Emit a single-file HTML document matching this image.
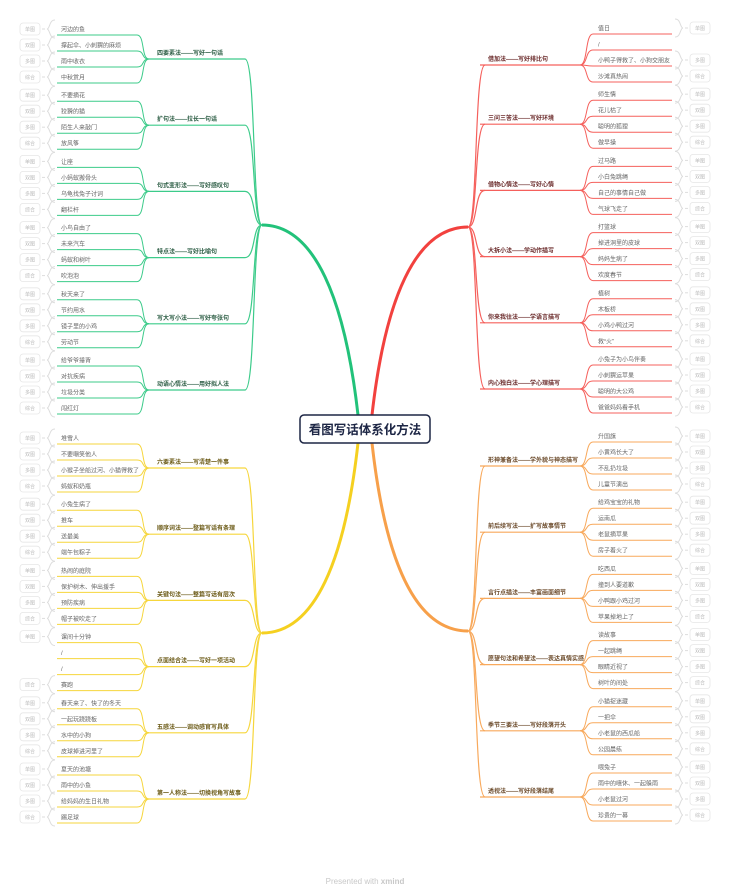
<!DOCTYPE html>
<html><head><meta charset="utf-8"><style>
html,body{margin:0;padding:0;background:#fff;width:730px;height:892px;overflow:hidden}
svg{display:block;font-family:"Liberation Sans","Noto Sans CJK SC",sans-serif}
</style></head><body>
<svg id="s" width="730" height="892" viewBox="0 0 730 892" xmlns="http://www.w3.org/2000/svg"></svg>
<script>
var S=document.getElementById('s'),h='';
var boxes=['单图','双图','多图','综合'];
var data=[
 {side:'L',c:'#3ccb8a',t:'#2d5e45',T:225,start:29,g:[
  ['四要素法——写好一句话',['河边的鱼','撑起伞、小刺猬的麻烦','雨中收衣','中秋赏月']],
  ['扩句法——拉长一句话',['不要摘花','狡猾的猫','陌生人来敲门','放风筝']],
  ['句式变形法——写好感叹句',['让座','小蚂蚁搬骨头','乌龟找兔子讨词','翻栏杆']],
  ['特点法——写好比喻句',['小鸟自由了','未来汽车','蚂蚁和树叶','吹泡泡']],
  ['写大写小法——写好夸张句',['秋天来了','节约用水','镜子里的小鸡','劳动节']],
  ['动语心情法——用好拟人法',['给爷爷捶背','对抗疾病','垃圾分类','闯红灯']]]},
 {side:'L',c:'#f6d63c',t:'#6b5a16',T:633,start:438,g:[
  ['六要素法——写清楚一件事',['堆雪人','不要嘲笑他人','小猴子坐船过河、小猫得救了','蚂蚁和奶瓶']],
  ['顺序词法——整篇写话有条理',['小兔生病了','推车','送最美','端午包粽子']],
  ['关键句法——整篇写话有层次',['热闹的庭院','保护树木、伸出援手','预防疾病','帽子被吹走了']],
  ['点面结合法——写好一项活动',['课间十分钟','/','/','赛跑']],
  ['五感法——调动感官写具体',['春天来了、快了的冬天','一起玩跷跷板','水中的小狗','皮球掉进河里了']],
  ['第一人称法——切换视角写故事',['夏天的池塘','雨中的小鱼','给妈妈的生日礼物','踢足球']]]},
 {side:'R',c:'#f5605c',t:'#6b2b2b',T:227,start:28,g:[
  ['借加法——写好排比句',['值日','/','小鸭子得救了、小狗交朋友','沙滩真热闹']],
  ['三问三答法——写好环境',['师生情','花儿枯了','聪明的狐狸','做早操']],
  ['借物心情法——写好心情',['过马路','小白兔跳绳','自己的事情自己做','气球飞走了']],
  ['大拆小法——学动作描写',['打篮球','掉进洞里的皮球','妈妈生病了','欢度春节']],
  ['你来我往法——学语言描写',['植树','木板桥','小鸡小鸭过河','救“火”']],
  ['内心独白法——学心理描写',['小兔子为小鸟伴奏','小刺猬运苹果','聪明的大公鸡','爸爸妈妈看手机']]]},
 {side:'R',c:'#f8a95c',t:'#6b4a2a',T:631,start:436,g:[
  ['形神兼备法——学外貌与神态描写',['升国旗','小黄鸡长大了','不乱扔垃圾','儿童节演出']],
  ['前后续写法——扩写故事情节',['给鸡宝宝的礼物','运南瓜','老鼠摘苹果','房子着火了']],
  ['言行点描法——丰富画面细节',['吃西瓜','撞到人要道歉','小鸭跟小鸡过河','苹果掉地上了']],
  ['愿望句法和希望法——表达真情实感',['读故事','一起跳绳','眼睛近视了','树叶的间处']],
  ['季节三要法——写好段落开头',['小猫捉迷藏','一把伞','小老鼠的西瓜船','公园晨练']],
  ['透视法——写好段落结尾',['喂兔子','雨中的嘻休、一起躲雨','小老鼠过河','珍贵的一幕']]]}
];
data.forEach(function(b){
 var L=b.side=='L';
 b.g.forEach(function(g,gi){
  var f=b.start+gi*66.2;
  var gy=f+30; if(!L&&b.T==227&&gi==0) gy=65;
  // group
  if(L){
   h+='<path d="M245 '+gy+' C256 '+gy+' 252 '+b.T+' 262 '+b.T+'" fill="none" stroke="'+b.c+'" stroke-width="1.2"/>';
   h+='<line x1="148" y1="'+gy+'" x2="245" y2="'+gy+'" stroke="'+b.c+'" stroke-width="1.2"/>';
   h+='<text x="157" y="'+(gy-4)+'" font-size="6" font-weight="bold" fill="'+b.t+'">'+g[0]+'</text>';
  } else {
   h+='<path d="M468 '+b.T+' C478 '+b.T+' 474 '+gy+' 485 '+gy+'" fill="none" stroke="'+b.c+'" stroke-width="1.2"/>';
   h+='<line x1="480" y1="'+gy+'" x2="582" y2="'+gy+'" stroke="'+b.c+'" stroke-width="1.2"/>';
   h+='<text x="488" y="'+(gy-4)+'" font-size="6" font-weight="bold" fill="'+b.t+'">'+g[0]+'</text>';
  }
  g[1].forEach(function(t,li){
   var y=f+li*16, yl=y+6;
   if(L){
    h+='<line x1="57" y1="'+yl+'" x2="137" y2="'+yl+'" stroke="'+b.c+'" stroke-width="1"/>';
    h+='<path d="M137 '+yl+' C145 '+yl+' 141 '+gy+' 149 '+gy+'" fill="none" stroke="'+b.c+'" stroke-width="1"/>';
    h+='<text x="61" y="'+(y+2.5)+'" font-size="6" fill="#666">'+t+'</text>';
   } else {
    h+='<line x1="593" y1="'+yl+'" x2="672" y2="'+yl+'" stroke="'+b.c+'" stroke-width="1"/>';
    h+='<path d="M580 '+gy+' C588 '+gy+' 585 '+yl+' 593 '+yl+'" fill="none" stroke="'+b.c+'" stroke-width="1"/>';
    h+='<text x="598" y="'+(y+2.5)+'" font-size="6" fill="#666">'+t+'</text>';
   }
   if(t!='/'){
    var bx,bl;
    if(L){bx=20;h+='<path d="M55 '+(y-9)+' C49 '+(y-9)+' 50 '+y+' 47 '+y+' C50 '+y+' 49 '+(y+9)+' 55 '+(y+9)+'" fill="none" stroke="#ddd" stroke-width="1"/><line x1="42" y1="'+y+'" x2="45" y2="'+y+'" stroke="#ddd"/>';}
    else {bx=690;h+='<path d="M675 '+(y-9)+' C681 '+(y-9)+' 680 '+y+' 683 '+y+' C680 '+y+' 681 '+(y+9)+' 675 '+(y+9)+'" fill="none" stroke="#ddd" stroke-width="1"/><line x1="685" y1="'+y+'" x2="688" y2="'+y+'" stroke="#ddd"/>';}
    h+='<rect x="'+bx+'" y="'+(y-6)+'" width="20" height="12" rx="3" fill="#fff" stroke="#e6e6e6" stroke-width="0.8"/>';
    h+='<text x="'+(bx+10)+'" y="'+(y+2)+'" font-size="5" fill="#bbb" text-anchor="middle">'+boxes[li]+'</text>';
   }
  });
 });
});
// trunks
h+='<path d="M358 415 C345 300 315 225 262 225" fill="none" stroke="#22c27a" stroke-width="3"/>';
h+='<path d="M372 415 C385 300 415 227 468 227" fill="none" stroke="#f2413e" stroke-width="3"/>';
h+='<path d="M358 443 C345 560 315 633 262 633" fill="none" stroke="#f5d020" stroke-width="3"/>';
h+='<path d="M372 443 C385 560 415 631 468 631" fill="none" stroke="#f7a04a" stroke-width="3"/>';
h+='<rect x="300" y="415" width="130" height="28" rx="4" fill="#fff" stroke="#1d2645" stroke-width="1.5"/>';
h+='<text x="365" y="434" font-size="12.5" font-weight="bold" fill="#1d2645" text-anchor="middle">看图写话体系化方法</text>';
h+='<text x="365" y="884" font-size="8" fill="#c8c8c8" text-anchor="middle">Presented with <tspan font-weight="bold">xmind</tspan></text>';
S.innerHTML=h;
</script>
</body></html>
